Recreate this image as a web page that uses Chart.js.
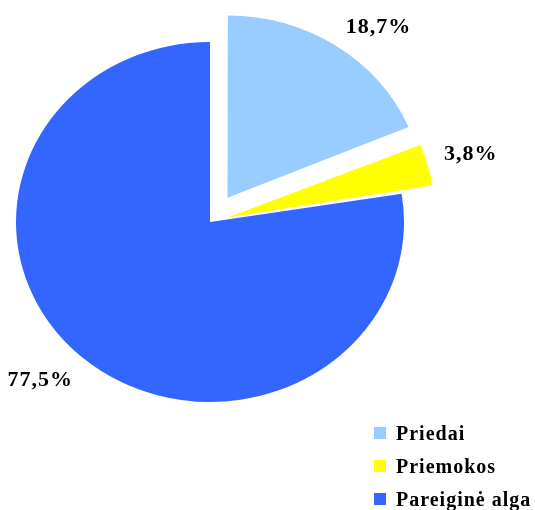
<!DOCTYPE html>
<html>
<head>
<meta charset="utf-8">
<script src="https://cdn.jsdelivr.net/npm/chart.js@4.4.0/dist/chart.umd.min.js"></script>
<style>
  html, body { margin: 0; padding: 0; background: #fff; }
  canvas { display: block; }
</style>
</head>
<body>
<canvas id="pieChart" width="535" height="510"></canvas>
<script>
// data
const categories = ["Priedai", "Priemokos", "Pareiginė alga"];
const shares = [18.7, 3.8, 77.5];
const shareLabels = ["18,7%", "3,8%", "77,5%"];

const fontFace = "'Liberation Serif', 'Times New Roman', serif";
const squash = 180 / 194; // the original pie is a bit wider than tall

// how far chart.js really pushes an exploded arc out (see ArcElement.draw)
const realOffset = (arc) => {
    const off = (arc.options.offset || 0) / 4;
    const fix = 1 - Math.sin(Math.min(Math.PI, arc.circumference || 0));
    return off + off * fix;
};

const ellipsePlugin = {
    id: 'ellipse',
    beforeDatasetsDraw(chart) {
        const arc = chart.getDatasetMeta(0).data[0];
        const ctx = chart.ctx;
        ctx.save();
        ctx.translate(0, arc.y);
        ctx.scale(1, squash);
        ctx.translate(0, -arc.y);
    },
    afterDatasetsDraw(chart) {
        const ctx = chart.ctx;
        ctx.restore();
        // percentage labels outside each slice
        ctx.save();
        ctx.font = "bold 22px " + fontFace;
        ctx.letterSpacing = "1px";
        ctx.fillStyle = "#000";
        chart.getDatasetMeta(0).data.forEach((arc, i) => {
            const mid = (arc.startAngle + arc.endAngle) / 2;
            const dist = realOffset(arc) + arc.outerRadius + 17;
            const x = arc.x + Math.cos(mid) * dist;
            const y = arc.y + Math.sin(mid) * dist * squash;
            ctx.textAlign = Math.cos(mid) >= 0 ? 'left' : 'right';
            ctx.textBaseline = 'alphabetic';
            const by = Math.sin(mid) < 0 ? y : y + 15;
            ctx.fillText(shareLabels[i], x, by);
        });
        ctx.restore();
    },
    afterDraw(chart) {
        // legend in the lower right corner
        const ctx = chart.ctx;
        const colors = chart.data.datasets[0].backgroundColor;
        ctx.save();
        ctx.font = "bold 20px " + fontFace;
        ctx.letterSpacing = "1px";
        ctx.textAlign = 'left';
        ctx.textBaseline = 'alphabetic';
        categories.forEach((name, i) => {
            const rowY = 440 + i * 33;
            ctx.fillStyle = colors[i];
            ctx.fillRect(374, rowY - 13, 12, 12);
            ctx.fillStyle = "#000";
            ctx.fillText(name, 396, rowY);
        });
        ctx.restore();
    }
};

const config = {
    type: 'pie',
    data: {
        labels: categories,
        datasets: [{
            data: shares,
            backgroundColor: ["#99CCFF", "#FFFF00", "#3366FF"],
            borderWidth: 0,
            offset: [126, 73, 0]
        }]
    },
    options: {
        responsive: false,
        animation: false,
        radius: 194,
        layout: { padding: { left: 0, right: 115, top: 0, bottom: 66 } },
        plugins: {
            legend: { display: false },
            tooltip: { enabled: false }
        }
    },
    plugins: [ellipsePlugin]
};

const myChart = new Chart(document.getElementById('pieChart'), config);
</script>
</body>
</html>
